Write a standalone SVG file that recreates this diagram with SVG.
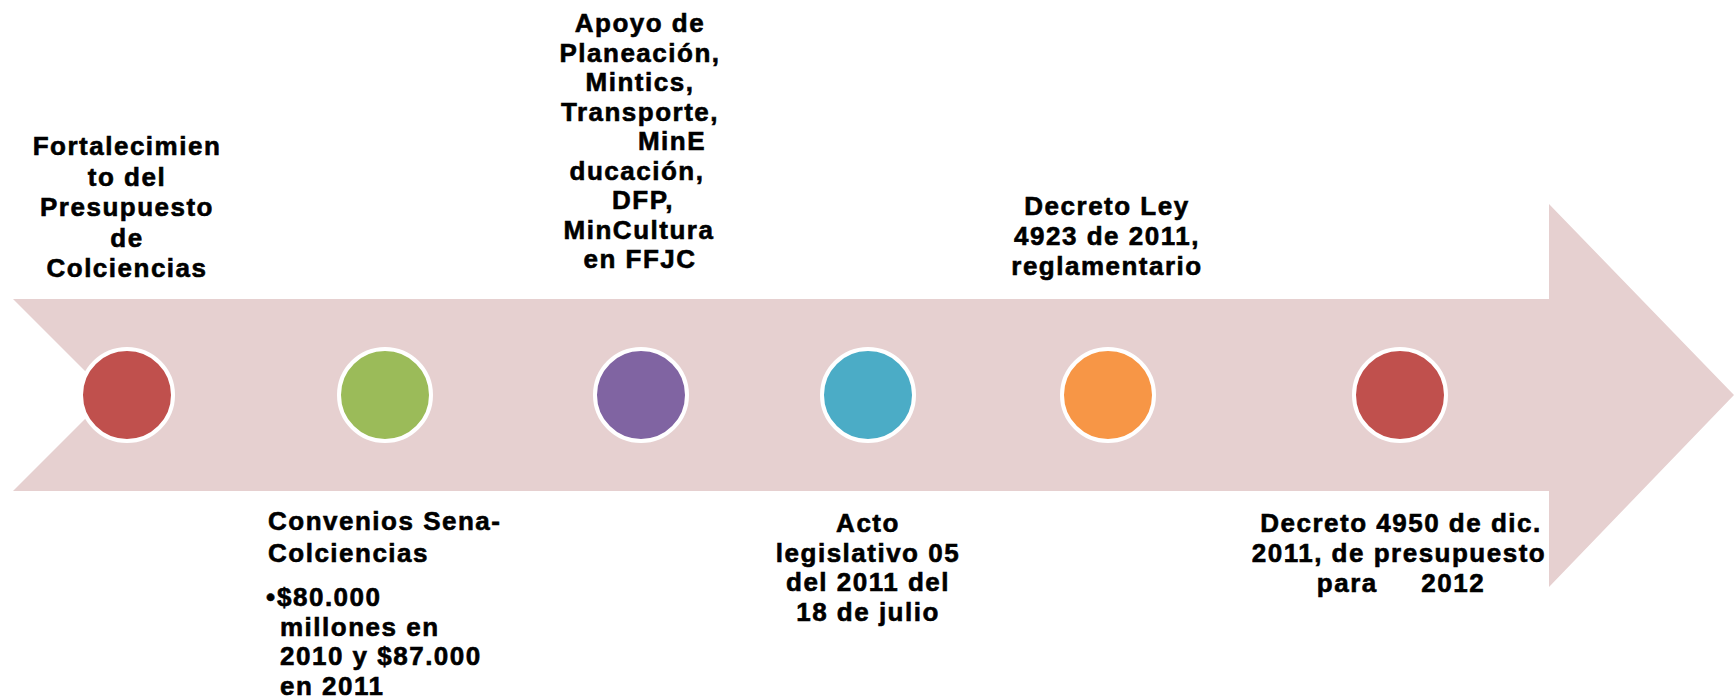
<svg xmlns="http://www.w3.org/2000/svg" width="1734" height="698" viewBox="0 0 1734 698">
<style>
.t{font-family:"Liberation Sans",Arial,sans-serif;font-weight:bold;font-size:26px;letter-spacing:1.5px;fill:#000;stroke:#000;stroke-width:0.6px}
.c{text-anchor:middle}
.dot{stroke:#fff;stroke-width:4}
</style>
<rect width="1734" height="698" fill="#fff"/>
<g id="arrow">
<polygon points="13,299 1549,299 1549,204 1734,395 1549,587 1549,491 13,491 109,395" fill="#E6D0D0"/>
</g>
<g id="connectors"></g>
<g id="node1">
<circle class="dot" cx="127" cy="395" r="46" fill="#C0504D"/>
<text class="t c" x="127" y="155">Fortalecimien<tspan x="127" dy="30.5">to del</tspan><tspan x="127" dy="30.5">Presupuesto</tspan><tspan x="127" dy="30.5">de</tspan><tspan x="127" dy="30.5">Colciencias</tspan></text>
</g>
<g id="node2">
<circle class="dot" cx="385" cy="395" r="46" fill="#9BBB59"/>
<text class="t" x="268" y="530">Convenios Sena-<tspan x="268" dy="32">Colciencias</tspan></text>
<text class="t" x="266" y="606">•<tspan x="277">$80.000</tspan><tspan x="280" dy="29.5">millones en</tspan><tspan x="280" dy="29.5">2010 y  $87.000</tspan><tspan x="280" dy="29.5">en 2011</tspan></text>
</g>
<g id="node3">
<circle class="dot" cx="641" cy="395" r="46" fill="#8064A2"/>
<text class="t c" x="640" y="32">Apoyo de<tspan x="640" dy="29.5">Planeación,</tspan><tspan x="640" dy="29.5">Mintics,</tspan><tspan x="640" dy="29.5">Transporte,</tspan><tspan x="706" dy="29.5" style="text-anchor:end">MinE</tspan><tspan x="637" dy="29.5">ducación,</tspan><tspan x="643" dy="29.5">DFP,</tspan><tspan x="639" dy="29.5">MinCultura</tspan><tspan x="640" dy="29.5">en FFJC</tspan></text>
</g>
<g id="node4">
<circle class="dot" cx="868" cy="395" r="46" fill="#4BACC6"/>
<text class="t c" x="868" y="532">Acto<tspan x="868" dy="29.5">legislativo 05</tspan><tspan x="868" dy="29.5">del 2011 del</tspan><tspan x="868" dy="29.5">18 de julio</tspan></text>
</g>
<g id="node5">
<circle class="dot" cx="1108" cy="395" r="46" fill="#F79646"/>
<text class="t c" x="1107" y="215">Decreto Ley<tspan x="1107" dy="30">4923 de 2011,</tspan><tspan x="1107" dy="30">reglamentario</tspan></text>
</g>
<g id="node6">
<circle class="dot" cx="1400" cy="395" r="46" fill="#C0504D"/>
<text class="t c" x="1401" y="532" xml:space="preserve">Decreto 4950 de dic.<tspan x="1399" dy="30">2011, de presupuesto</tspan><tspan x="1401" dy="30">para     2012</tspan></text>
</g>
</svg>
